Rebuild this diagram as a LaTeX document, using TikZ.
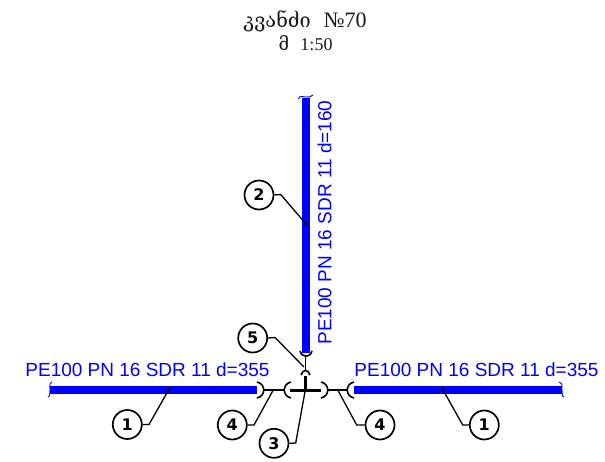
\documentclass[tikz,border=0pt]{standalone}
\usepackage{fontspec}
\setmainfont{Liberation Sans}
\newfontfamily\titlefont{DejaVu Serif}
\newfontfamily\numfont{Liberation Serif}
\newfontfamily\markfont{DejaVu Sans}
\tikzset{
	pipe/.style={draw=blue, line width=8.4pt},
	pipelabel/.style={text=blue, font=\fontsize{19}{19}\selectfont, inner sep=0pt},
	breakmark/.style={draw=blue, line width=0.9pt},
	joint/.style={draw=black, line width=1.6pt},
	stem/.style={draw=black, line width=1.3pt},
	tee/.style={draw=black, line width=3pt},
	leader/.style={draw=black, line width=1.3pt},
	callout/.style={draw=black, line width=1.7pt, circle, minimum size=29pt, inner sep=0pt, fill=white,
		font=\markfont\bfseries\fontsize{16}{16}\selectfont},
	titletext/.style={inner sep=0pt, text=black!90}
}
\begin{document}
\begin{tikzpicture}[x=1pt, y=-1pt]
	\useasboundingbox (0, 0) rectangle (605, 461);
	\coordinate (topEnd) at (306, 98);
	\coordinate (topFoot) at (306, 353);
	\coordinate (leftEnd) at (50, 390);
	\coordinate (leftFoot) at (257, 390);
	\coordinate (rightFoot) at (354, 390);
	\coordinate (rightEnd) at (562, 390);
	\draw[pipe] (topEnd) -- (topFoot);
	\draw[pipe] (leftEnd) -- (leftFoot);
	\draw[pipe] (rightFoot) -- (rightEnd);
	% breaks
	\draw[breakmark] (298, 99) .. controls (301, 94) and (303, 98) .. (306, 97) .. controls (309, 96) and (311, 98) .. (313, 95);
	\draw[breakmark] (52, 382) .. controls (48, 384) and (51, 387) .. (50, 390) .. controls (49, 393) and (51, 396) .. (48, 397);
	\draw[breakmark] (559, 382) .. controls (564, 384) and (561, 387) .. (562, 390) .. controls (563, 393) and (561, 396) .. (564, 397);
	% joints
	\draw[joint] (300, 351) .. controls (302, 358) and (310, 358) .. (312, 351);
	\draw[joint] (301, 375) .. controls (303, 369) and (308, 369) .. (310, 375);
	\draw[joint] (257, 382) .. controls (266, 384) and (266, 396) .. (257, 398);
	\draw[joint] (291, 382) .. controls (282, 384) and (282, 396) .. (291, 398);
	\draw[joint] (321, 382) .. controls (330, 384) and (330, 396) .. (321, 398);
	\draw[joint] (354, 382) .. controls (345, 384) and (345, 396) .. (354, 398);
	\coordinate (teeTop) at (305.5, 376);
	\coordinate (teeLeft) at (290, 390);
	\coordinate (teeRight) at (321, 390);
	\coordinate (teeMid) at (305.5, 390);
	\draw[tee] (teeLeft) -- (teeRight);
	\draw[tee] (teeTop) -- (teeMid);
	\draw[stem] (305.5, 356) -- (305.5, 371);
	\draw[stem] (264, 390) -- (284, 390);
	\draw[stem] (328, 390) -- (347, 390);
	% callouts
	\node[callout] (leftOne) at (127.3, 424.5) {1};
	\node[callout] (rightOne) at (484.3, 425) {1};
	\node[callout] (pipeTwo) at (259, 195) {2};
	\node[callout] (teeThree) at (274, 443.3) {3};
	\node[callout] (leftFour) at (232.3, 425) {4};
	\node[callout] (rightFour) at (380, 425) {4};
	\node[callout] (capFive) at (252.7, 338) {5};
	\coordinate (leftOneTip) at (169, 389.3);
	\coordinate (rightOneTip) at (442.7, 389.3);
	\coordinate (pipeTwoTip) at (306, 224);
	\coordinate (teeThreeTip) at (305.3, 390);
	\coordinate (leftFourTip) at (272.7, 391);
	\coordinate (rightFourTip) at (338.3, 391);
	\coordinate (capFiveTip) at (304, 367);
	\draw[leader] (leftOne.east) -- (149, 424.5) -- (leftOneTip);
	\draw[leader] (rightOne.west) -- (462.7, 425) -- (rightOneTip);
	\draw[leader] (pipeTwo.east) -- (280.7, 194.5) -- (pipeTwoTip);
	\draw[leader] (teeThree.east) -- (295.7, 443) -- (teeThreeTip);
	\draw[leader] (leftFour.east) -- (254, 425) -- (leftFourTip);
	\draw[leader] (rightFour.west) -- (356.7, 425) -- (rightFourTip);
	\draw[leader] (capFive.east) -- (275, 337.5) -- (capFiveTip);
	\fill (leftOneTip) circle (1.6);
	\fill (rightOneTip) circle (1.6);
	\fill (pipeTwoTip) circle (1.6);
	% labels
	\node[pipelabel] (leftLabel) at (147.5, 370) {PE100 PN 16 SDR 11 d=355};
	\node[pipelabel] (rightLabel) at (476.5, 370) {PE100 PN 16 SDR 11 d=355};
	\node[pipelabel, rotate=90] (topLabel) at (324.5, 222.5) {PE100 PN 16 SDR 11 d=160};
	\node[titletext] (titleOne) at (305, 21) {\fontsize{20}{20}\selectfont\titlefont კვანძი\ \ \fontsize{22}{22}\selectfont\numfont №70};
	\node[titletext] (titleTwo) at (305.5, 43) {\fontsize{18}{18}\selectfont\titlefont მ\ \ \fontsize{18}{18}\selectfont\numfont 1:50};
\end{tikzpicture}
\end{document}
